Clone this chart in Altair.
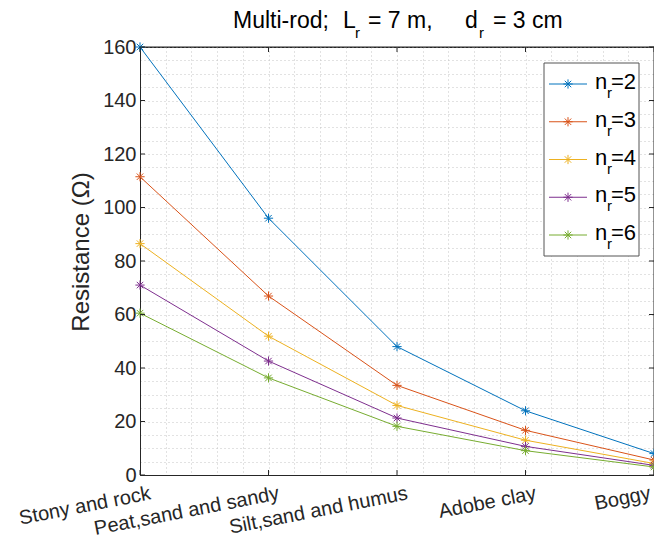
import altair as alt
import pandas as pd

# ---- data ----
categories = ["Stony and rock", "Peat,sand and sandy", "Silt,sand and humus", "Adobe clay", "Boggy"]
n_values = ["2", "3", "4", "5", "6"]
r_n2 = [160.0, 96.0, 48.0, 24.0, 8.0]
r_n3 = [111.5, 66.9, 33.5, 16.7, 5.6]
r_n4 = [86.5, 51.9, 26.0, 13.0, 4.3]
r_n5 = [71.0, 42.6, 21.3, 10.7, 3.6]
r_n6 = [60.5, 36.3, 18.2, 9.1, 3.0]
series_values = [r_n2, r_n3, r_n4, r_n5, r_n6]
colors = ["#0072BD", "#D95319", "#EDB120", "#7E2F8E", "#77AC30"]
y_major = list(range(0, 161, 20))
y_grid = list(range(0, 161, 5))
x_major = [1, 2, 3, 4, 5]
x_grid = [round(1 + 0.2 * i, 1) for i in range(21)]

rows = []
for n, vals in zip(n_values, series_values):
    for i, v in enumerate(vals):
        rows.append({"pos": i + 1, "category": categories[i], "n": n, "value": v})
df = pd.DataFrame(rows)

W, H = 514, 428
FONT = "Liberation Sans"
AX = "#262626"
STAR = "M-1,0L1,0M0,-1L0,1M-0.7,-0.7L0.7,0.7M-0.7,0.7L0.7,-0.7"

cat_js = "[" + ",".join("'" + c + "'" for c in categories) + "]"
x_axis = alt.Axis(values=x_grid, title=None, grid=True, gridDash=[1, 3], gridColor="#c4c4c4",
                  ticks=False, domainColor=AX, labelFont=FONT, labelFontSize=20, labelColor=AX,
                  labelAngle=349, labelAlign="right", labelBaseline="top", labelPadding=8,
                  labelOffset={"condition": {"test": "datum.value == 5", "value": -6}, "value": 8},
                  labelOverlap=False, labelFlush=False, labelLimit=0,
                  labelExpr="datum.value % 1 == 0 ? " + cat_js + "[round(datum.value) - 1] : ''")
y_axis = alt.Axis(values=y_grid, title=None, grid=True, gridDash=[1, 3], gridColor="#c4c4c4",
                  ticks=False, domainColor=AX, labelFont=FONT, labelFontSize=20, labelColor=AX,
                  labelPadding=4, labelOverlap=False, labelFlush=False,
                  labelExpr="datum.value % 20 == 0 ? datum.label : ''")
xs = alt.Scale(domain=[1, 5], nice=False, zero=False)
ys = alt.Scale(domain=[0, 160], nice=False)

def X():
    return alt.X("pos:Q", scale=xs, axis=x_axis)

def Y():
    return alt.Y("value:Q", scale=ys, axis=y_axis)

color = alt.Color("n:N", scale=alt.Scale(domain=n_values, range=colors), legend=None)

one = pd.DataFrame({"a": [0]})

# frame (top and right borders drawn over the grid)
frame = [
    alt.Chart(one).mark_rule(color=AX, strokeWidth=1).encode(
        x=alt.value(0), x2=alt.value(W), y=alt.value(0)),
    alt.Chart(one).mark_rule(color=AX, strokeWidth=1).encode(
        x=alt.value(W), y=alt.value(0), y2=alt.value(H)),
]

lines = alt.Chart(df).mark_line(strokeWidth=1).encode(x=X(), y=Y(), color=color, detail="n:N")
points = alt.Chart(df).mark_point(shape=STAR, filled=False, size=85, strokeWidth=1, opacity=1).encode(
    x=X(), y=Y(), color=color)

xt = pd.DataFrame({"pos": x_major})
yt = pd.DataFrame({"value": y_major})
ticks = [
    alt.Chart(xt).mark_rule(color=AX).encode(x=X(), y=alt.value(H), y2=alt.value(H - 5)),
    alt.Chart(xt).mark_rule(color=AX).encode(x=X(), y=alt.value(0), y2=alt.value(5)),
    alt.Chart(yt).mark_rule(color=AX).encode(y=Y(), x=alt.value(0), x2=alt.value(5)),
    alt.Chart(yt).mark_rule(color=AX).encode(y=Y(), x=alt.value(W - 5), x2=alt.value(W)),
]

def txt(s, x, y, size, angle=0, align="left", color="black", baseline="alphabetic"):
    kw = dict(text=s, font=FONT, fontSize=size, align=align, baseline=baseline, color=color)
    if angle:
        kw["angle"] = angle
    return alt.Chart(one).mark_text(**kw).encode(x=alt.value(x), y=alt.value(y))

texts = []
# title with subscripts
TB, TS = -19, -9
texts += [txt("Multi-rod;", 93, TB, 23), txt("L", 203, TB, 23), txt("r", 215, TS, 15),
          txt("= 7 m,", 228, TB, 23), txt("d", 325, TB, 23), txt("r", 339, TS, 15),
          txt("= 3 cm", 353, TB, 23)]
# y title
texts.append(txt("Resistance (\u03a9)", -58, 205, 24, angle=270, align="center", color=AX,
                 baseline="middle"))

# legend
legend = [alt.Chart(one).mark_rect(fill="white", stroke="#555555", strokeWidth=1).encode(
    x=alt.value(404), x2=alt.value(499), y=alt.value(16), y2=alt.value(209))]
for i, (n, c) in enumerate(zip(n_values, colors)):
    yc = 37 + i * 37.75
    legend.append(alt.Chart(one).mark_rule(color=c, strokeWidth=1).encode(
        x=alt.value(409), x2=alt.value(447), y=alt.value(yc)))
    legend.append(alt.Chart(one).mark_point(shape=STAR, filled=False, size=85, strokeWidth=1,
                                            opacity=1, color=c).encode(
        x=alt.value(428), y=alt.value(yc)))
    legend += [txt("n", 455, yc + 5, 22), txt("r", 467, yc + 14, 15), txt("=" + n, 471, yc + 5, 22)]

chart = alt.layer(*frame, lines, points, *ticks, *legend, *texts).properties(
    width=W, height=H,
    autosize=alt.AutoSizeParams(type="none"),
    padding={"left": 132, "top": 39, "right": 0, "bottom": 67},
    background="white",
).configure_view(stroke=AX, strokeWidth=1)

chart.save("out.html", embed_options={"renderer": "svg", "actions": False})
